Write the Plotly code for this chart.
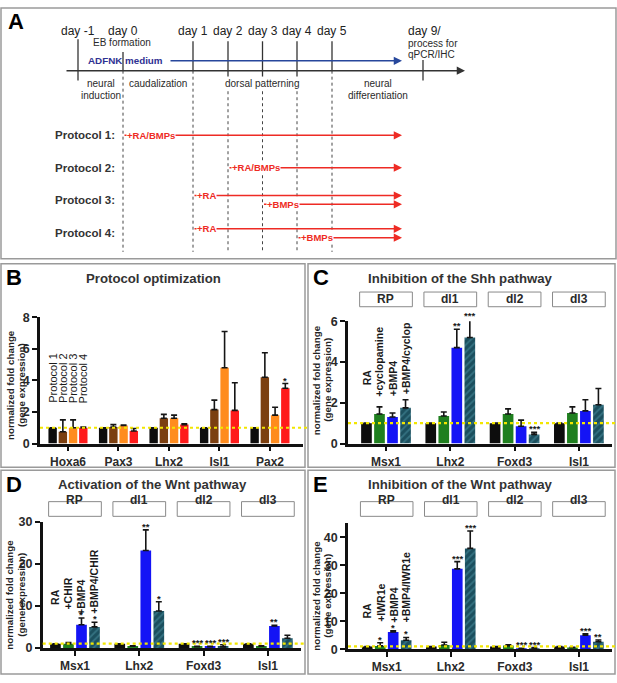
import plotly.graph_objects as go

W, H = 617, 683

# ======================= DATA =======================
# ---- Panel A : protocol schematic ----
timeline_days = [-1, 0, 1, 2, 3, 4, 5, 9]
timeline_labels = ["day -1", "day 0", "day 1", "day 2", "day 3", "day 4", "day 5", "day 9/"]
day9_notes = ["process for", "qPCR/IHC"]
phase_names = ["neural<br>induction", "caudalization", "dorsal patterning", "neural<br>differentiation"]
phase_from = [-1, 0, 1, 5]
phase_to = [0, 1, 5, 9]
protocol_names = ["Protocol 1:", "Protocol 2:", "Protocol 3:", "Protocol 4:"]
protocol_treatments = [["+RA/BMPs"], ["+RA/BMPs"], ["+RA", "+BMPs"], ["+RA", "+BMPs"]]
protocol_start_days = [[0], [2], [1, 3], [1, 4]]

# ---- Panel B : Protocol optimization ----
b_genes = ["Hoxa6", "Pax3", "Lhx2", "Isl1", "Pax2"]
b_series = ["Protocol 1", "Protocol 2", "Protocol 3", "Protocol 4"]
b_protocol1 = [1.0, 1.0, 1.0, 1.0, 1.0]
b_protocol2 = [0.75, 1.05, 1.6, 2.15, 4.2]
b_protocol3 = [1.0, 1.15, 1.6, 4.8, 1.8]
b_protocol4 = [1.0, 0.8, 1.2, 2.1, 3.5]
b_protocol1_sem = [0.0, 0.0, 0.0, 0.0, 0.0]
b_protocol2_sem = [0.75, 0.15, 0.25, 0.6, 1.55]
b_protocol3_sem = [0.5, 0.03, 0.2, 2.3, 0.5]
b_protocol4_sem = [0.05, 0.15, 0.05, 1.75, 0.3]
b_star_gene = [4]
b_star_series = [3]
b_star_text = ["*"]

# ---- Panels C-E shared ----
cde_genes = ["Msx1", "Lhx2", "Foxd3", "Isl1"]
cde_domains = ["RP", "dl1", "dl2", "dl3"]

# ---- Panel C : Inhibition of the Shh pathway ----
c_series = ["RA", "+cyclopamine", "+BMP4", "+BMP4/cyclop"]
c_ra = [1.0, 1.0, 1.0, 1.0]
c_cyclopamine = [1.45, 1.35, 1.45, 1.5]
c_bmp4 = [1.3, 4.7, 0.85, 1.6]
c_bmp4_cyclop = [1.75, 5.2, 0.45, 1.9]
c_ra_sem = [0.0, 0.0, 0.0, 0.0]
c_cyclopamine_sem = [0.35, 0.2, 0.25, 0.3]
c_bmp4_sem = [0.2, 0.9, 0.3, 0.55]
c_bmp4_cyclop_sem = [0.4, 0.9, 0.1, 0.8]
c_star_gene = [1, 1, 2]
c_star_series = [2, 3, 3]
c_star_text = ["**", "***", "***"]

# ---- Panel D : Activation of the Wnt pathway ----
d_series = ["RA", "+CHIR", "+BMP4", "+BMP4/CHIR"]
d_ra = [1.0, 1.0, 1.0, 1.0]
d_chir = [1.0, 0.4, 0.3, 0.4]
d_bmp4 = [5.5, 23.2, 0.3, 5.2]
d_bmp4_chir = [5.0, 8.8, 0.25, 2.3]
d_ra_sem = [0.0, 0.0, 0.0, 0.0]
d_chir_sem = [0.3, 0.1, 0.05, 0.1]
d_bmp4_sem = [1.6, 4.9, 0.05, 0.2]
d_bmp4_chir_sem = [1.1, 2.2, 0.5, 0.7]
d_star_gene = [0, 0, 1, 1, 2, 2, 2, 3]
d_star_series = [2, 3, 2, 3, 1, 2, 3, 2]
d_star_text = ["*", "*", "**", "*", "***", "***", "***", "**"]

# ---- Panel E : Inhibition of the Wnt pathway ----
e_series = ["RA", "+IWR1e", "+BMP4", "+BMP4/IWR1e"]
e_ra = [1.0, 1.0, 1.0, 1.0]
e_iwr1e = [1.2, 1.5, 1.3, 0.6]
e_bmp4 = [6.2, 28.7, 0.3, 5.0]
e_bmp4_iwr1e = [3.2, 36.0, 0.3, 2.7]
e_ra_sem = [0.0, 0.0, 0.0, 0.0]
e_iwr1e_sem = [1.1, 1.0, 0.3, 0.1]
e_bmp4_sem = [0.4, 2.6, 0.05, 0.5]
e_bmp4_iwr1e_sem = [1.0, 6.2, 0.3, 0.6]
e_star_gene = [0, 0, 0, 1, 1, 2, 2, 3, 3]
e_star_series = [1, 2, 3, 2, 3, 2, 3, 2, 3]
e_star_text = ["*", "*", "*", "***", "***", "***", "***", "***", "**"]

# ======================= STYLE / LAYOUT =======================
FONT = "Liberation Sans, Arial, sans-serif"
TXT = "#2a2a2a"
AXC = "#111111"
BORDER = "#9a9a9a"
RED = "#ee2b24"
NAVY = "#2e3192"

B_COLORS = ["#0d0d0d", "#7b3f10", "#ff8c1e", "#ff1a1a"]
CDE_COLORS = ["#0d0d0d", "#1f7f1f", "#1414f5", "#1b4f5e"]
HATCH = [None, None, None, dict(shape="/", fgcolor="#4d93a3", size=5, solidity=0.35, fillmode="overlay")]

BARGAP, GROUPGAP = 0.19, 0.18

# schematic positions (px) of each timeline day in panel A
DAY_X = [78, 123, 193, 228, 262.5, 297, 332, 423]
SOLID_TOP = [33, 46, 35, 35, 35, 35, 35, 54]
SOLID_BOT = [75, 65, 65, 71, 71, 71, 65, 75]
DOT_TOP = [None, 65, 65, 86, 86, 86, 65, None]
DOT_BOT = 250
TIMELINE_Y = 65
TIMELINE_X0, TIMELINE_X1 = 65, 465
ARROW_END = 402
PROTOCOL_Y = [131, 164, 197, 231]


def px(x):
    return x / W


def py(y):
    return 1 - y / H


fig = go.Figure()


def text(t, x, y, size, color=TXT, bold=False, family=FONT, xanchor="center",
         yanchor="middle", **kw):
    fig.add_annotation(text=t, x=px(x), y=py(y), xref="paper", yref="paper",
                       showarrow=False, xanchor=xanchor, yanchor=yanchor,
                       font=dict(family=family, size=size, color=color,
                                 weight="bold" if bold else "normal"), **kw)


def line(x0, y0, x1, y1, color, width, dash="solid"):
    fig.add_shape(type="line", xref="paper", yref="paper", x0=px(x0), y0=py(y0),
                  x1=px(x1), y1=py(y1), line=dict(color=color, width=width, dash=dash))


def arrow(x0, x1, y, color, width):
    fig.add_annotation(x=px(x1), y=py(y), xref="paper", yref="paper", text="",
                       ax=x0 - x1, ay=0, axref="pixel", ayref="pixel", showarrow=True,
                       arrowhead=2, arrowsize=1.1, arrowwidth=width, arrowcolor=color,
                       standoff=0, startstandoff=0)


def rect(x0, y0, x1, y1, color=BORDER, width=1.5):
    fig.add_shape(type="rect", xref="paper", yref="paper", x0=px(x0), y0=py(y0),
                  x1=px(x1), y1=py(y1), line=dict(color=color, width=width),
                  fillcolor="rgba(0,0,0,0)")


# ---------- panel frames ----------
rect(1, 1, 616, 257)
rect(1, 262, 305, 470)
rect(308, 262, 615, 470)
rect(1, 473, 305, 681)
rect(308, 473, 615, 681)

# ---------- Panel A ----------
text("A", 6, 15, 22, color="#000", bold=True, xanchor="left")
day_pos = dict(zip(timeline_days, DAY_X))

for i, d in enumerate(timeline_days):
    line(DAY_X[i], SOLID_TOP[i], DAY_X[i], SOLID_BOT[i], "#333", 1.3)
    if DOT_TOP[i] is not None:
        line(DAY_X[i], DOT_TOP[i], DAY_X[i], DOT_BOT, "#444", 1.0, dash="dot")
arrow(TIMELINE_X0, TIMELINE_X1, TIMELINE_Y, "#333", 1.5)
arrow(169, ARROW_END, 55, "#27479c", 1.5)

for i, lab in enumerate(timeline_labels[:-1]):
    text(lab, DAY_X[i], 24, 12, color="#222")
text(timeline_labels[-1], 406, 24, 12, color="#222", xanchor="left")
for k, note in enumerate(day9_notes):
    text(note, 406, 37 + 12 * k, 10, xanchor="left")
text("EB formation", 121.5, 36, 10)
text("ADFNK", 105, 55, 9.8, color=NAVY, bold=True)
text("medium", 143.5, 55, 9.8, color=NAVY, bold=True)

for name, a, b in zip(phase_names, phase_from, phase_to):
    xc = (day_pos[a] + day_pos[b]) / 2
    for k, part in enumerate(name.split("<br>")):
        text(part, xc, 78 + 12 * k, 10)

for pi, (pname, treats, starts) in enumerate(zip(protocol_names, protocol_treatments,
                                                  protocol_start_days)):
    yrow = PROTOCOL_Y[pi]
    text(pname, 53, yrow, 11.5, color="#333", bold=True, xanchor="left")
    n = len(treats)
    offs = [0] if n == 1 else [-4.5, 4.5]
    for t, s, o in zip(treats, starts, offs):
        x0 = day_pos[s]
        arrow(x0, ARROW_END, yrow + o, RED, 1.5)
    for t, s, o in zip(treats, starts, offs):
        x0 = day_pos[s]
        text(t, x0 + 3, yrow + o, 9.5, color=RED, bold=True,
             xanchor="left", bgcolor="white", borderpad=0)

# ---------- bar panels ----------
panels = [
    dict(letter="B", title="Protocol optimization", xa="x", ya="y",
         xdom=(40, 303), ydom=(445.7, 316.7), xr=(-0.554, 4.654), yr=(0, 8),
         ticks=[0, 2, 4, 6, 8], genes=b_genes, series=b_series,
         vals=[b_protocol1, b_protocol2, b_protocol3, b_protocol4],
         sems=[b_protocol1_sem, b_protocol2_sem, b_protocol3_sem, b_protocol4_sem],
         colors=B_COLORS, hatch=[None] * 4, domains=None,
         stars=(b_star_gene, b_star_series, b_star_text),
         label_y=[2.5, 2.5, 2.5, 2.5], label_bold=False, label_size=11,
         origin=(1, 262), title_x=153, ytitle_x=(10, 21), ytitle_y=386),
    dict(letter="C", title="Inhibition of the Shh pathway", xa="x2", ya="y2",
         xdom=(348, 612), ydom=(445.7, 320.7), xr=(-0.591, 3.515), yr=(0, 6),
         ticks=[0, 2, 4, 6], genes=cde_genes, series=c_series,
         vals=[c_ra, c_cyclopamine, c_bmp4, c_bmp4_cyclop],
         sems=[c_ra_sem, c_cyclopamine_sem, c_bmp4_sem, c_bmp4_cyclop_sem],
         colors=CDE_COLORS, hatch=HATCH, domains=(291, 306),
         stars=(c_star_gene, c_star_series, c_star_text),
         label_y=[2.83, 2.27, 2.27, 2.35], label_bold=True, label_size=10.5,
         origin=(308, 262), title_x=460, ytitle_x=(316, 327.5), ytitle_y=381),
    dict(letter="D", title="Activation of the Wnt pathway", xa="x3", ya="y3",
         xdom=(42.7, 301), ydom=(654.3, 525.7), xr=(-0.502, 3.515), yr=(0, 30),
         ticks=[0, 10, 20, 30], genes=cde_genes, series=d_series,
         vals=[d_ra, d_chir, d_bmp4, d_bmp4_chir],
         sems=[d_ra_sem, d_chir_sem, d_bmp4_sem, d_bmp4_chir_sem],
         colors=CDE_COLORS, hatch=HATCH, domains=(505, 520),
         stars=(d_star_gene, d_star_series, d_star_text),
         label_y=[10.1, 9.0, 7.6, 7.8], label_bold=True, label_size=10.5,
         origin=(1, 473), title_x=152, ytitle_x=(10, 22), ytitle_y=600),
    dict(letter="E", title="Inhibition of the Wnt pathway", xa="x4", ya="y4",
         xdom=(348, 612), ydom=(655.7, 527), xr=(-0.604, 3.516), yr=(0, 45),
         ticks=[0, 10, 20, 30, 40], genes=cde_genes, series=e_series,
         vals=[e_ra, e_iwr1e, e_bmp4, e_bmp4_iwr1e],
         sems=[e_ra_sem, e_iwr1e_sem, e_bmp4_sem, e_bmp4_iwr1e_sem],
         colors=CDE_COLORS, hatch=HATCH, domains=(505, 520),
         stars=(e_star_gene, e_star_series, e_star_text),
         label_y=[10.7, 9.5, 9.0, 9.3], label_bold=True, label_size=10.5,
         origin=(308, 473), title_x=460, ytitle_x=(317, 328), ytitle_y=601),
]

layout_axes = {}
for p in panels:
    xa, ya = p["xa"], p["ya"]
    ng = len(p["genes"])
    ns = len(p["series"])
    slot = (1 - BARGAP) / ns
    offsets = [-(1 - BARGAP) / 2 + (i + 0.5) * slot for i in range(ns)]
    xs = list(range(ng))
    ymax = p["yr"][1]
    for i in range(ns):
        marker = dict(color=p["colors"][i], line=dict(width=0))
        if p["hatch"][i]:
            marker["pattern"] = p["hatch"][i]
        fig.add_trace(go.Bar(
            x=xs, y=p["vals"][i], name=p["series"][i], marker=marker,
            error_y=dict(type="data", array=p["sems"][i],
                         arrayminus=[0] * ng, symmetric=False,
                         color="#151515", thickness=1.6, width=3),
            cliponaxis=False,
            xaxis=xa, yaxis=ya, showlegend=False, hoverinfo="skip"))
    # reference line at 1
    fig.add_shape(type="line", xref=f"{xa} domain", yref=ya, x0=0, x1=1.02, y0=1, y1=1,
                  line=dict(color="#f2e600", width=2.2, dash="dot"), layer="above")
    # rotated series labels above first group
    for i, s in enumerate(p["series"]):
        fig.add_annotation(text=s, x=0 + offsets[i], y=p["label_y"][i] / ymax, xref=xa,
                           yref=f"{ya} domain",
                           showarrow=False, textangle=-90, xanchor="center",
                           yanchor="bottom", borderpad=0,
                           font=dict(family=FONT, size=p["label_size"], color="#1a1a1a",
                                     weight="bold" if p["label_bold"] else "normal"))
    # significance stars
    sg, ss, st = p["stars"]
    for g, s, t in zip(sg, ss, st):
        top = p["vals"][s][g] + p["sems"][s][g]
        fig.add_annotation(text=t, x=g + offsets[s], y=top / ymax, xref=xa,
                           yref=f"{ya} domain",
                           showarrow=False, xanchor="center", yanchor="bottom",
                           yshift=-3, borderpad=0,
                           font=dict(family=FONT, size=9.5, color="#1a1a1a", weight="bold"))
    # domain boxes
    if p["domains"]:
        y0, y1 = p["domains"]
        for g, dname in enumerate(cde_domains):
            fig.add_shape(type="rect", xref=xa, yref="paper", x0=g - 0.41, x1=g + 0.41,
                          y0=py(y1), y1=py(y0), line=dict(color="#8a8a8a", width=1),
                          fillcolor="white")
            fig.add_annotation(text=dname, x=g, y=py((y0 + y1) / 2), xref=xa, yref="paper",
                               showarrow=False,
                               font=dict(family=FONT, size=12, color=TXT, weight="bold"))
    # letter & title
    ox, oy = p["origin"]
    text(p["letter"], ox + 3, oy + 14, 22, color="#000", bold=True, xanchor="left")
    text(p["title"], p["title_x"], oy + 15, 13.2, color="#333", bold=True)
    # y title
    for k, part in enumerate(["normalized fold change", "(gene expression)"]):
        text(part, p["ytitle_x"][k], p["ytitle_y"], 9.8, color="#222", bold=True,
             textangle=-90)

    xkey = "xaxis" + xa[1:]
    ykey = "yaxis" + ya[1:]
    layout_axes[xkey] = dict(
        domain=[px(p["xdom"][0]), px(p["xdom"][1])], range=list(p["xr"]), anchor=ya,
        tickvals=xs, ticktext=p["genes"], ticks="outside", ticklen=5, tickwidth=2,
        tickcolor=AXC, showline=True, linewidth=2.5, linecolor=AXC, showgrid=False,
        zeroline=False, fixedrange=True,
        tickfont=dict(family=FONT, size=12, color=TXT, weight="bold"))
    layout_axes[ykey] = dict(
        domain=[py(p["ydom"][0]), py(p["ydom"][1])], range=list(p["yr"]), anchor=xa,
        tickvals=p["ticks"], ticks="outside", ticklen=5, tickwidth=2, tickcolor=AXC,
        showline=True, linewidth=2.5, linecolor=AXC, showgrid=False, zeroline=False,
        fixedrange=True, tickfont=dict(family=FONT, size=12.5, color=TXT, weight="bold"))

fig.update_layout(
    width=W, height=H, margin=dict(l=0, r=0, t=0, b=0),
    paper_bgcolor="white", plot_bgcolor="white",
    barmode="group", bargap=BARGAP, bargroupgap=GROUPGAP,
    showlegend=False, **layout_axes)

fig.write_html("out.html", config={"displayModeBar": False},
               post_script="document.body.style.margin='0';")
